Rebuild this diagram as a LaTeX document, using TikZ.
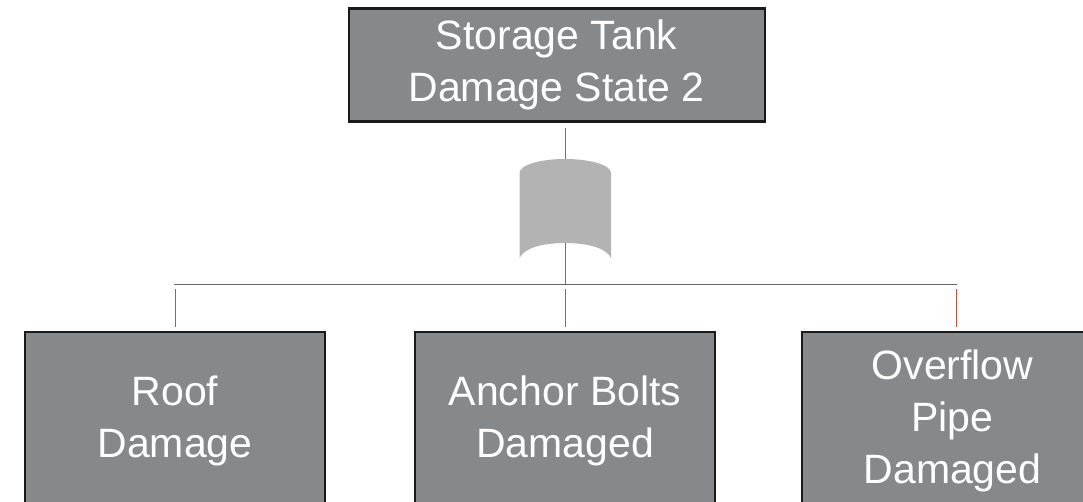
\documentclass[tikz,border=0pt]{standalone}
\usepackage{fontspec}
\setmainfont{Liberation Sans}
\usepackage{tikz}
\usetikzlibrary{positioning}
\definecolor{boxgray}{HTML}{87888A}
\definecolor{boxedge}{HTML}{1A1A1A}
\definecolor{tankgray}{HTML}{B3B3B3}
\definecolor{linkred}{HTML}{B8583C}
\definecolor{busgray}{HTML}{666666}

\begin{document}
\begin{tikzpicture}[
  x=1pt, y=-1pt,
  state/.style={draw=boxedge, line width=2.2pt, fill=boxgray, text=white, align=center,
    inner sep=0pt, outer sep=0pt, font=\fontsize{41}{52}\selectfont},
  top/.style={state, minimum width=416pt, minimum height=113pt},
  damage/.style={state, minimum width=300.5pt, minimum height=177pt},
  tankbody/.style={fill=tankgray, draw=none},
  link/.style={draw=linkred, line width=1pt},
  bus/.style={draw=busgray, line width=1pt}
]
\path[use as bounding box, clip] (0,0) rectangle (1083,501);
\node[top] (ds) at (556.7,65) {Storage Tank\\Damage State 2};
\node[damage] (anchor) at (565,420.5) {Anchor Bolts\\Damaged};
\node[damage, left=89.5pt of anchor] (roof) {Roof\\Damage};
\node[damage, right=87pt of anchor] (pipe) {Overflow\\Pipe\\Damaged};
\coordinate (hub) at (565,284.5);
\coordinate (busl) at (174,284.5);
\coordinate (busr) at (956.5,284.5);
% riser passes behind the tank
\draw[link, shorten <=6pt] (ds.south -| hub) -- (hub);
\fill[tankbody] (519.5,173) .. controls (519.5,165) and (540,159) .. (565,159)
  .. controls (590,159) and (611,165) .. (611,173) -- (611,258)
  .. controls (607,249) and (590,243) .. (565,243)
  .. controls (540,243) and (523.5,249) .. (519.5,258) -- cycle;
\draw[link] (565,243) -- (hub);
\draw[bus] (busl) -- (busr);
\draw[link, shorten <=4.5pt, shorten >=5pt] (hub) -- (anchor.north);
\draw[link, shorten <=4.5pt, shorten >=5pt] (roof.north |- hub) -- (roof.north);
\draw[link, shorten <=4.5pt, shorten >=5pt] (busr) -- (busr |- pipe.north);
\end{tikzpicture}
\end{document}
